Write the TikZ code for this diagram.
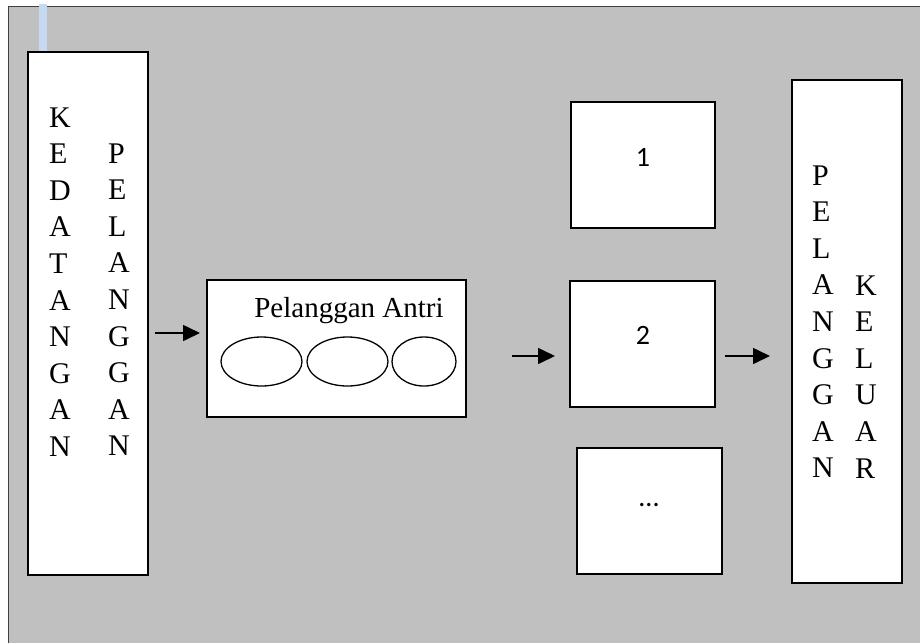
\documentclass[tikz,border=0pt]{standalone}
\usepackage{fontspec}
\setmainfont{Liberation Serif}
\newfontfamily\calib{Carlito}
\usetikzlibrary{arrows.meta,calc,shapes.geometric}
\definecolor{bggray}{HTML}{C0C0C0}
\definecolor{bordergray}{HTML}{404040}
\definecolor{barblue}{HTML}{C6D9F1}
\tikzset{
  box/.style={draw=black,line width=1.6pt,fill=white,rectangle,inner sep=0pt,outer sep=0pt,anchor=north west},
  oval/.style={draw=black,line width=1.3pt,fill=white,ellipse,inner sep=0pt},
  vtext/.style={font=\fontsize{30}{36.6}\selectfont,align=left,inner sep=0pt,anchor=base west},
  numtext/.style={font=\calib\fontsize{28}{32}\selectfont,inner sep=0pt},
  arr/.style={line width=1.6pt,-{Triangle[length=17pt,width=16pt]}}
}
\begin{document}
\begin{tikzpicture}[x=1pt,y=-1pt]
\useasboundingbox (0,0) rectangle (920,643);
\fill[bggray] (8,6) rectangle (920,643);
\draw[bordergray,line width=1pt] (920,6) -- (8,6) -- (8,643);
\fill[barblue] (39,4) rectangle (47,52);
% left box
\node[box,minimum width=120pt,minimum height=523pt] (kedatangan) at (28,52) {};
\node[vtext] (kcol) at (49,456.4) {K\\E\\D\\A\\T\\A\\N\\G\\A\\N};
\node[vtext] (pcol) at (108,455.8) {P\\E\\L\\A\\N\\G\\G\\A\\N};
% queue box
\node[box,minimum width=259pt,minimum height=137pt] (antri) at (207,280) {};
\node[font=\fontsize{29}{34}\selectfont,inner sep=0pt,anchor=base] (antrilabel) at (349,317) {Pelanggan Antri};
\node[oval,minimum width=81pt,minimum height=49pt] (o1) at (261.5,361.5) {};
\node[oval,minimum width=81pt,minimum height=49pt] (o2) at (347.5,361.5) {};
\node[oval,minimum width=64pt,minimum height=49pt] (o3) at (424,361.5) {};
% servers
\node[box,minimum width=144pt,minimum height=126pt] (s1) at (571,102) {};
\node[numtext] (l1) at (643,157) {1};
\node[box,minimum width=145pt,minimum height=126pt] (s2) at (570,281) {};
\node[numtext] (l2) at (643,335) {2};
\node[box,minimum width=145pt,minimum height=126pt] (s3) at (577,448) {};
\node[numtext] (l3) at (649,505) {...};
% right box
\node[box,minimum width=110pt,minimum height=503pt] (keluar) at (792,80) {};
\node[vtext] (pcol2) at (812,477.8) {P\\E\\L\\A\\N\\G\\G\\A\\N};
\node[vtext] (kcol2) at (855,478) {K\\E\\L\\U\\A\\R};
% arrows
\draw[arr,shorten <=7pt,shorten >=7pt] ($(kedatangan.east |- antri.west)+(0,-15.5)$) -- ($(antri.west)+(0,-15.5)$);
\draw[arr,shorten <=46pt,shorten >=15pt] ($(antri.east)+(0,7.5)$) -- ($(antri.east -| s2.west)+(0,7.5)$);
\draw[arr,shorten <=10pt,shorten >=22pt] ($(s2.east)+(0,12)$) -- ($(s2.east -| keluar.west)+(0,12)$);
\end{tikzpicture}
\end{document}
